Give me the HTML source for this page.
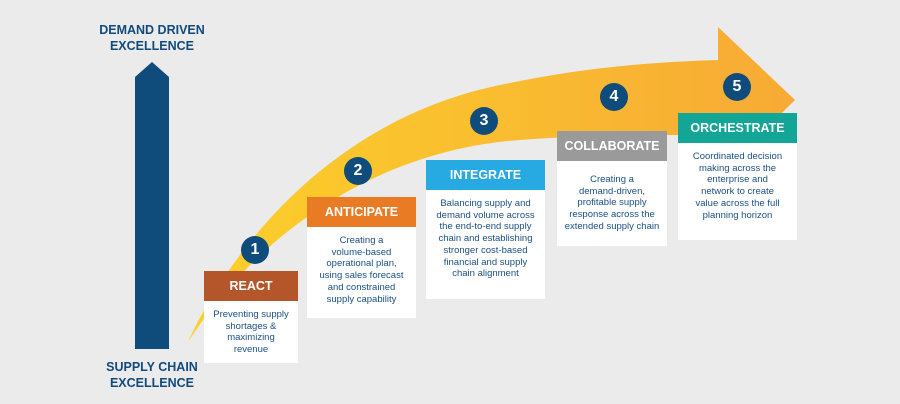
<!DOCTYPE html>
<html><head><meta charset="utf-8"><style>
body{margin:0;width:900px;height:404px;background:#ebebeb;position:relative;overflow:hidden;font-family:"Liberation Sans",sans-serif}
.t{position:absolute;color:#114a7c;font-weight:bold;font-size:12.5px;text-align:center;line-height:16px}
.card{position:absolute;background:#fff}
.card .h{height:30px;line-height:30px;color:#fff;font-weight:bold;font-size:12.5px;text-align:center}
.card .b{color:#1b4f82;font-size:9.5px;line-height:11.7px;text-align:center;padding:8px 0 0;white-space:nowrap}
.c{position:absolute;width:28px;height:28px;border-radius:50%;background:#0f4c7b;color:#fff;font-weight:bold;font-size:16px;line-height:28px;text-align:center}
</style></head><body>
<svg width="900" height="404" style="position:absolute;left:0;top:0">
<defs><linearGradient id="g" x1="0" y1="0" x2="1" y2="0"><stop offset="0" stop-color="#fcd02a"/><stop offset="1" stop-color="#f7aa35"/></linearGradient></defs>
<polygon points="135,77 152,62 169,77 169,349 135,349" fill="#0f4c7b"/>
<path d="M188,342 C230,250 330,120 500,85 C580,68 650,62 718,60 L718,27 L795,100 L722,172 L720,135 C650,135 580,135 520,140 C380,150 260,230 188,342 Z" fill="url(#g)"/>
</svg>
<div class="t" style="left:80px;top:22px;width:144px">DEMAND DRIVEN<br>EXCELLENCE</div>
<div class="t" style="left:90px;top:359px;width:124px">SUPPLY CHAIN<br>EXCELLENCE</div>
<div class="card" style="left:204px;top:271px;width:94px;height:92px"><div class="h" style="background:#b5562a">REACT</div><div class="b">Preventing supply<br>shortages &amp;<br>maximizing<br>revenue</div></div>
<div class="card" style="left:307px;top:197px;width:109px;height:121px"><div class="h" style="background:#e87b23">ANTICIPATE</div><div class="b">Creating a<br>volume-based<br>operational plan,<br>using sales forecast<br>and constrained<br>supply capability</div></div>
<div class="card" style="left:426px;top:160px;width:119px;height:139px"><div class="h" style="background:#27a9e1">INTEGRATE</div><div class="b">Balancing supply and<br>demand volume across<br>the end-to-end supply<br>chain and establishing<br>stronger cost-based<br>financial and supply<br>chain alignment</div></div>
<div class="card" style="left:557px;top:131px;width:110px;height:115px"><div class="h" style="background:#9a9a9a">COLLABORATE</div><div class="b" style="padding-top:13px">Creating a<br>demand-driven,<br>profitable supply<br>response across the<br>extended supply chain</div></div>
<div class="card" style="left:678px;top:113px;width:119px;height:127px"><div class="h" style="background:#13a596">ORCHESTRATE</div><div class="b">Coordinated decision<br>making across the<br>enterprise and<br>network to create<br>value across the full<br>planning horizon</div></div>
<div class="c" style="left:241px;top:236px">1</div>
<div class="c" style="left:344px;top:157px">2</div>
<div class="c" style="left:470px;top:107px">3</div>
<div class="c" style="left:600px;top:83px">4</div>
<div class="c" style="left:723px;top:73px">5</div>
</body></html>
